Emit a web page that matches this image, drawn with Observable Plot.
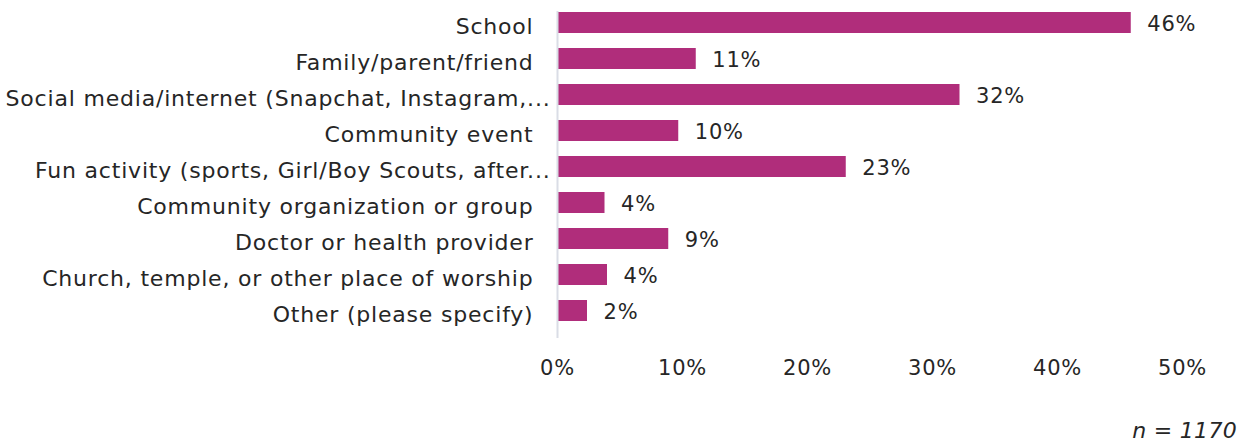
<!DOCTYPE html>
<html>
<head>
<meta charset="utf-8">
<script src="https://cdn.jsdelivr.net/npm/d3@7"></script>
<script src="https://cdn.jsdelivr.net/npm/@observablehq/plot@0.6"></script>
<style>
  html, body { margin: 0; padding: 0; background: #fff; }
  #chart { width: 1247px; height: 446px; position: relative; font-family: "DejaVu Sans", sans-serif; }
  #caption { position: absolute; right: 10px; top: 418px; font-size: 22px; letter-spacing: 0.3px; font-style: italic; color: #262626; }
</style>
</head>
<body>
<div id="chart"><div id="caption">n = 1170</div></div>
<script>
const categories = [
  "School",
  "Family/parent/friend",
  "Social media/internet (Snapchat, Instagram,...",
  "Community event",
  "Fun activity (sports, Girl/Boy Scouts, after...",
  "Community organization or group",
  "Doctor or health provider",
  "Church, temple, or other place of worship",
  "Other (please specify)"
];
const truncated = [
  "Social media/internet (Snapchat, Instagram,...",
  "Fun activity (sports, Girl/Boy Scouts, after..."
];
const values = [45.9, 11.1, 32.2, 9.7, 23.1, 3.8, 8.9, 4.0, 2.4];
const xTicks = [0, 10, 20, 30, 40, 50];

const data = categories.map((c, i) => ({category: c, value: values[i]}));
const normal = categories.filter(c => !truncated.includes(c));
const textColor = "#262626";
const fs = 22;

const chart = Plot.plot({
  width: 1247,
  height: 400,
  marginLeft: 557,
  marginRight: 65,
  marginTop: 6,
  marginBottom: 73,
  style: {fontFamily: "DejaVu Sans, sans-serif", fontSize: fs + "px", letterSpacing: "0.8px", color: textColor, background: "transparent"},
  x: {domain: [0, 50], ticks: xTicks, label: null, tickFormat: d => d + "%"},
  y: {domain: categories, paddingInner: 0.42, paddingOuter: 0.1, label: null},
  marks: [
    Plot.barX(data, {y: "category", x: "value", fill: "#b02d7b"}),
    Plot.ruleX([0], {stroke: "#dadde6", strokeWidth: 2, insetTop: 5, insetBottom: -11}),
    Plot.text(data, {y: "category", x: "value", text: d => Math.round(d.value) + "%", textAnchor: "start", dx: 16, dy: 1, fill: textColor, fontSize: fs - 1}),
    Plot.axisX({ticks: xTicks, tickSize: 0, tickPadding: 33, tickFormat: d => d + "%", label: null, fontSize: fs - 1, fill: textColor}),
    Plot.axisY(normal, {tickSize: 0, tickPadding: 24, dy: 4, label: null, fontSize: fs, fill: textColor}),
    Plot.axisY(truncated, {tickSize: 0, tickPadding: 7, dy: 4, label: null, fontSize: fs, fill: textColor})
  ]
});
document.getElementById("chart").prepend(chart);
</script>
</body>
</html>
